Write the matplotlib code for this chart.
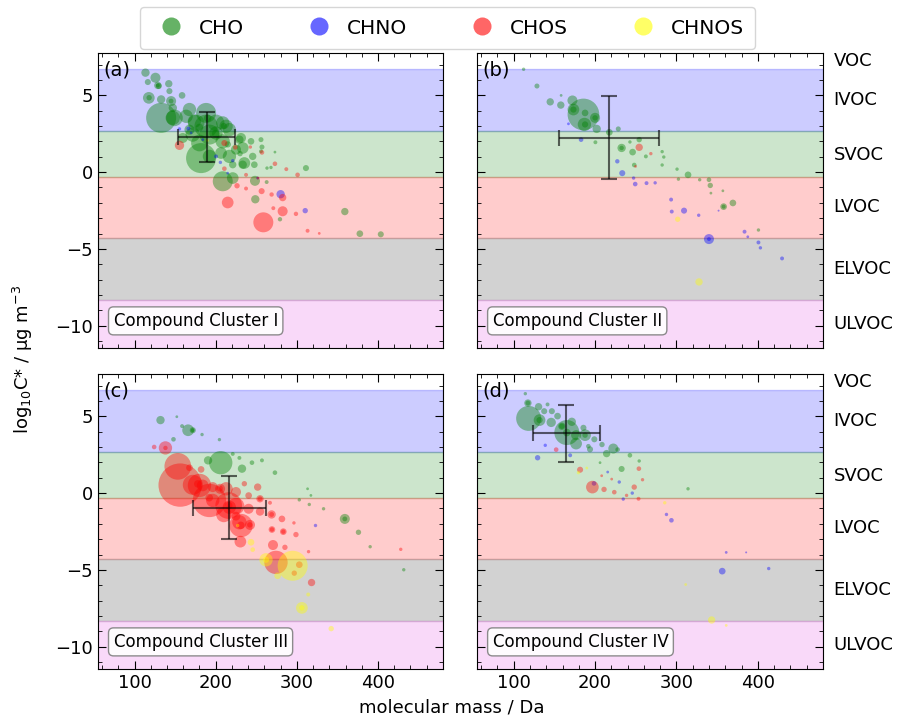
import numpy as np
import matplotlib
matplotlib.use('Agg')
import matplotlib.pyplot as plt
from matplotlib.lines import Line2D
import matplotlib.transforms as mtransforms

# ---- data: molecular mass (Da), log10 C*, marker area ----
# panel (a) Compound Cluster I
a_cho_mass = [113.5, 125.8, 116.4, 128.7, 142.2, 143.0, 117.6, 132.8, 145.1, 158.6, 132.8, 149.2, 167.7, 188.2,
              173.8, 208.7, 188.2, 159.5, 180.0, 216.8, 231.2, 233.3, 182.0, 208.7, 221.0, 233.3, 247.6, 243.5,
              255.8, 257.0, 248.4, 248.8, 262.8, 273.0, 263.2, 268.1, 311.2, 279.2, 359.1, 377.6, 403.4,
              200.4, 167.7, 147.2, 206.6, 225.0, 245.6, 221.0,
              129.9, 147.1, 163.6, 175.9, 200.5, 212.8, 171.7, 192.3, 208.6, 229.2, 192.3, 216.9, 235.3, 255.8,
              128.7, 118.0, 145.0, 190.0, 200.0, 180.0, 215.0, 230.0, 210.0]
a_cho_logc = [6.47, 6.14, 5.86, 5.64, 5.75, 5.27, 4.83, 4.73, 4.62, 4.99, 3.53, 3.53, 4.07, 3.85,
              3.31, 3.20, 2.98, 2.22, 1.89, 2.76, 2.22, 1.57, 0.91, -0.60, -0.39, 0.48, 0.48, 2.00,
              2.11, 1.63, -0.57, -1.77, -0.65, 1.30, 0.26, 0.30, 0.26, -3.07, -2.57, -4.01, -4.05,
              2.54, 2.76, 4.18, 1.24, 1.46, 1.02, 0.48,
              5.60, 3.53, 3.63, 3.20, 3.20, 2.98, 2.44, 2.44, 2.00, 2.11, 1.02, 1.02, 0.59, 1.35,
              5.64, 4.84, 4.62, 3.50, 2.50, 2.90, 1.80, 1.20, 3.00]
a_cho_size = [36, 52, 19, 28, 28, 19, 71, 36, 52, 23, 467, 144, 92, 207,
              92, 92, 282, 52, 144, 92, 52, 71, 467, 207, 71, 36, 23, 23,
              13, 13, 52, 36, 8, 4, 6, 6, 19, 10, 28, 23, 19,
              92, 52, 36, 71, 52, 28, 28,
              19, 106, 92, 144, 144, 92, 106, 207, 106, 36, 92, 92, 71, 8,
              8, 15, 12, 30, 30, 30, 20, 15, 20]
a_chno_mass = [155.4, 166.4, 169.7, 184.1, 200.4, 205.8, 221.0, 214.8, 251.7, 280.0, 310.3]
a_chno_logc = [2.81, 2.83, 2.55, 2.11, 1.02, 0.63, 0.74, -0.07, -0.39, -1.44, -2.51]
a_chno_size = [6, 8, 4, 4, 8, 6, 6, 4, 4, 36, 15]
a_chos_mass = [155.4, 210.7, 224.2, 242.7, 257.0, 273.0, 210.7, 237.4, 226.3, 237.4, 256.6, 268.9, 282.5,
               214.8, 271.0, 282.5, 298.9, 287.0, 300.9, 258.7, 313.2, 327.6, 252.1]
a_chos_logc = [1.74, 1.89, 1.61, 1.63, 1.28, 0.54, 0.22, -0.18, -0.89, -1.07, -1.24, -1.46, -1.66,
               -1.98, -2.35, -2.55, -2.72, 0.19, -0.18, -3.27, -3.82, -3.99, -0.39]
a_chos_size = [45, 19, 11, 6, 11, 11, 11, 8, 15, 8, 19, 10, 28,
               71, 8, 52, 10, 8, 11, 207, 8, 4, 4]
a_chnos_mass = [189.0]
a_chnos_logc = [2.07]
a_chnos_size = [4]

# panel (b) Compound Cluster II
b_cho_mass = [112.2, 128.6, 144.9, 157.9, 158.3, 172.2, 173.4, 187.7, 185.7, 186.9, 200.0, 202.0, 217.5,
              228.5, 200.4, 232.6, 246.1, 242.8, 254.2, 262.4, 282.4, 284.4, 282.4, 248.1, 300.7, 314.2,
              302.4, 328.5, 339.9, 341.5, 342.3, 357.0, 357.9, 369.3, 400.7,
              173.4, 187.7, 200.0, 232.6, 357.9]
b_cho_logc = [6.69, 5.60, 4.57, 4.36, 4.99, 4.66, 4.07, 3.85, 3.75, 3.10, 3.53, 2.81, 2.59,
              2.81, 1.94, 1.57, 1.30, 1.96, 2.11, 1.02, 1.33, 0.98, 0.46, 0.46, 0.19, -0.18,
              -0.46, -0.50, -0.50, -0.87, -1.37, -1.22, -2.25, -2.01, -3.77,
              4.07, 3.10, 3.53, 1.57, -2.25]
b_cho_size = [6, 13, 28, 28, 4, 52, 71, 23, 520, 92, 52, 36, 23,
              13, 8, 36, 23, 6, 15, 8, 6, 6, 6, 11, 6, 23,
              6, 6, 11, 15, 4, 4, 23, 23, 6,
              20, 20, 15, 10, 8]
b_chno_mass = [167.3, 182.8, 227.3, 233.4, 247.3, 249.3, 263.2, 273.8, 293.4, 294.2, 309.3, 327.3, 351.7,
               339.9, 339.9, 383.6, 387.6, 400.7, 403.1, 429.7]
b_chno_logc = [3.14, 2.11, 0.70, -0.07, -0.39, -0.78, -0.72, -0.70, -1.79, -2.57, -2.51, -2.81, -2.51,
               -4.36, -4.36, -3.88, -4.21, -4.58, -4.93, -5.62]
b_chno_size = [4, 11, 10, 19, 6, 11, 8, 6, 8, 8, 19, 6, 2,
               52, 8, 8, 4, 8, 6, 8]
b_chos_mass = [254.2, 268.5, 249.7]
b_chos_logc = [1.61, 1.20, 0.37]
b_chos_size = [28, 6, 4]
b_chnos_mass = [301.5, 327.7]
b_chnos_logc = [-3.07, -7.15]
b_chnos_size = [15, 28]

# panel (c) Compound Cluster III
c_cho_mass = [132.0, 152.1, 158.6, 166.0, 171.8, 148.0, 183.2, 204.6, 206.2, 190.6, 221.0, 229.2, 232.4,
              244.7, 257.0, 273.0, 313.2, 317.3, 303.0, 315.3, 332.9, 359.1, 375.9, 390.3, 431.7, 171.8, 359.1]
c_cho_logc = [4.75, 4.97, 4.36, 4.09, 4.09, 3.50, 3.81, 3.48, 1.98, 2.13, 2.55, 2.29, 1.59,
              1.98, 2.13, 1.33, 0.28, -0.15, -0.44, -0.74, -1.02, -1.68, -2.55, -3.49, -4.99, 4.09, -1.68]
c_cho_size = [36, 4, 8, 71, 19, 11, 6, 6, 282, 36, 8, 8, 36,
              11, 8, 11, 4, 4, 6, 6, 6, 52, 15, 6, 6, 8, 12]
c_chno_mass = [322.2]
c_chno_logc = [-2.09]
c_chno_size = [6]
c_chos_mass = [124.2, 138.1, 153.3, 156.2, 167.7, 182.0, 171.8, 180.0, 196.4, 205.4, 192.3, 216.0, 231.2,
               225.1, 240.6, 242.3, 251.7, 254.6, 254.6, 268.9, 281.6, 269.3, 283.3, 296.4, 298.9, 230.4,
               270.6, 285.3, 314.4, 274.3, 303.0, 296.8, 318.1, 428.0, 216.8, 184.0, 196.4, 210.0,
               212.8, 225.0, 235.3, 240.6, 266.9, 229.2, 216.0, 205.0, 231.0, 225.0, 192.0, 178.0, 242.0,
               138.1, 254.6, 268.9, 283.3, 269.3]
c_chos_logc = [3.00, 2.94, 1.74, 0.52, 1.65, 1.54, 0.54, 0.50, 0.39, 0.28, -0.48, -0.81, -2.11,
               -0.85, -1.02, -2.07, 0.39, -0.37, -1.20, -1.39, -1.68, -2.37, -2.51, -1.94, -2.70, -3.16,
               -3.38, -3.53, -3.81, -4.51, -4.66, -5.21, -5.82, -3.66, -0.92, 0.50, -0.48, -1.40,
               0.28, 0.07, 0.61, -0.16, -0.63, -1.90, -0.81, 0.30, -2.10, -1.50, -0.30, 0.60, -2.07,
               2.94, -0.37, -1.39, -2.51, -2.37]
c_chos_size = [11, 92, 369, 973, 23, 23, 207, 282, 52, 52, 576, 369, 282,
               144, 52, 52, 28, 28, 36, 36, 23, 23, 23, 6, 15, 71,
               52, 15, 6, 282, 23, 15, 28, 6, 92, 71, 92, 120,
               92, 52, 15, 23, 8, 106, 30, 20, 30, 40, 30, 30, 15,
               10, 12, 12, 10, 10]
c_chnos_mass = [243.5, 245.6, 262.0, 294.8, 276.3, 314.0, 306.2, 342.3, 227.1, 306.2, 262.0]
c_chnos_logc = [-3.20, -3.68, -4.34, -4.73, -5.38, -6.60, -7.47, -8.82, -2.11, -7.47, -4.34]
c_chnos_size = [23, 11, 92, 467, 23, 8, 71, 15, 6, 15, 20]

# panel (d) Compound Cluster IV
d_cho_mass = [114.3, 117.5, 130.6, 141.6, 137.5, 146.9, 118.4, 131.8, 146.1, 153.9, 159.2, 171.4, 165.3,
              176.7, 185.7, 187.7, 176.7, 199.1, 208.5, 191.8, 193.8, 222.4, 214.2, 227.7, 242.8, 254.2,
              232.6, 314.2, 206.1, 117.5, 131.8, 159.2, 165.3, 187.7]
d_cho_logc = [6.47, 5.86, 5.62, 5.77, 5.33, 5.33, 4.86, 4.75, 4.60, 5.01, 4.35, 4.64, 3.94,
              3.77, 4.25, 3.77, 3.22, 3.50, 3.16, 3.05, 2.85, 2.90, 2.57, 2.83, 2.46, 2.09,
              1.57, 0.28, 1.98, 5.86, 4.75, 4.35, 3.94, 3.77]
d_cho_size = [6, 28, 28, 8, 19, 19, 324, 71, 45, 23, 28, 36, 324,
              52, 19, 71, 71, 19, 15, 11, 19, 52, 28, 11, 11, 6,
              19, 6, 4, 12, 20, 15, 30, 15]
d_chno_mass = [138.8, 129.4, 169.4, 198.7, 215.5, 229.7, 245.7, 234.6, 287.7, 293.8, 361.1, 385.6, 356.2, 413.3]
d_chno_logc = [3.11, 2.30, 2.46, 0.63, 1.37, 0.72, 0.00, -0.39, -1.39, -1.77, -3.86, -3.86, -5.08, -4.91]
d_chno_size = [6, 15, 8, 11, 4, 6, 6, 6, 6, 11, 4, 2, 23, 6]
d_chos_mass = [152.2, 181.6, 196.7, 211.0, 223.6, 248.1, 253.8, 258.3, 253.4, 208.1, 220.4, 238.7]
d_chos_logc = [2.83, 1.52, 0.39, 0.24, 0.06, 0.39, 1.59, 0.87, -0.37, 1.13, 0.91, -0.15]
d_chos_size = [11, 19, 83, 15, 11, 15, 11, 6, 8, 4, 4, 6]
d_chnos_mass = [179.6, 189.8, 285.6, 311.3, 343.2, 361.1]
d_chnos_logc = [1.33, 1.63, -0.63, -5.95, -8.26, -8.61]
d_chnos_size = [6, 4, 6, 4, 28, 4]

# cluster mean +- std (mass, logC*)
centre_mass = [189, 217, 217, 164.5]
centre_logc = [2.3, 2.25, -0.95, 3.9]
err_mass = [35, 61, 45, 41]
err_logc = [1.62, 2.7, 2.03, 1.85]

panel_tags = ['(a)', '(b)', '(c)', '(d)']
cluster_names = ['Compound Cluster I', 'Compound Cluster II', 'Compound Cluster III', 'Compound Cluster IV']
groups = ['CHO', 'CHNO', 'CHOS', 'CHNOS']
group_colors = ['green', 'blue', 'red', 'yellow']

# volatility classes
band_edges = [6.7, 2.7, -0.3, -4.3, -8.3]
band_names = ['VOC', 'IVOC', 'SVOC', 'LVOC', 'ELVOC', 'ULVOC']
band_label_y = [7.2, 4.7, 1.1, -2.3, -6.3, -9.9]
band_colors = [('blue', 0.2), ('green', 0.2), ('red', 0.2), ('gray', 0.35), ('violet', 0.3)]

panels = [
    [(a_cho_mass, a_cho_logc, a_cho_size), (a_chno_mass, a_chno_logc, a_chno_size),
     (a_chos_mass, a_chos_logc, a_chos_size), (a_chnos_mass, a_chnos_logc, a_chnos_size)],
    [(b_cho_mass, b_cho_logc, b_cho_size), (b_chno_mass, b_chno_logc, b_chno_size),
     (b_chos_mass, b_chos_logc, b_chos_size), (b_chnos_mass, b_chnos_logc, b_chnos_size)],
    [(c_cho_mass, c_cho_logc, c_cho_size), (c_chno_mass, c_chno_logc, c_chno_size),
     (c_chos_mass, c_chos_logc, c_chos_size), (c_chnos_mass, c_chnos_logc, c_chnos_size)],
    [(d_cho_mass, d_cho_logc, d_cho_size), (d_chno_mass, d_chno_logc, d_chno_size),
     (d_chos_mass, d_chos_logc, d_chos_size), (d_chnos_mass, d_chnos_logc, d_chnos_size)],
]

ymin, ymax = -11.45, 7.75
fig = plt.figure(figsize=(9.04, 7.18), dpi=100)
boxes = [[0.1084, 0.5153, 0.3816, 0.4109], [0.5277, 0.5153, 0.3827, 0.4109],
         [0.1084, 0.0682, 0.3816, 0.4109], [0.5277, 0.0682, 0.3827, 0.4109]]

for i in range(4):
    ax = fig.add_axes(boxes[i])
    tops = [ymax + 1] + band_edges
    bots = band_edges + [ymin - 1]
    for j in range(5):
        ax.axhspan(bots[j + 1], tops[j + 1], color=band_colors[j][0], alpha=band_colors[j][1], zorder=0)
    for (m, c, s), col in zip(panels[i], group_colors):
        ax.scatter(m, c, s=s, color=col, alpha=0.4, linewidths=0, zorder=2)
    ax.errorbar(centre_mass[i], centre_logc[i], xerr=err_mass[i], yerr=err_logc[i],
                color='black', alpha=0.6, capsize=6, lw=1.5, capthick=1.5, zorder=3)
    ax.set_xlim(55, 480)
    ax.set_ylim(ymin, ymax)
    ax.set_xticks([100, 200, 300, 400])
    ax.set_yticks([5, 0, -5, -10])
    ax.xaxis.set_minor_locator(matplotlib.ticker.MultipleLocator(20))
    ax.yaxis.set_minor_locator(matplotlib.ticker.MultipleLocator(1))
    ax.tick_params(which='both', direction='in', top=True, right=True, labelsize=13)
    ax.tick_params(which='major', length=6)
    ax.tick_params(which='minor', length=3)
    if i < 2:
        ax.tick_params(labelbottom=False)
    if i % 2 == 1:
        ax.tick_params(labelleft=False)
        trans = mtransforms.blended_transform_factory(ax.transAxes, ax.transData)
        for name, yv in zip(band_names, band_label_y):
            ax.text(1.03, yv, name, transform=trans, ha='left', va='center', fontsize=13)
    ax.text(0.016, 0.975, panel_tags[i], transform=ax.transAxes, ha='left', va='top', fontsize=14)
    ax.text(0.045, 0.092, cluster_names[i], transform=ax.transAxes, ha='left', va='center', fontsize=12,
            bbox=dict(boxstyle='round,pad=0.3', fc='white', ec='gray', alpha=0.9))

fig.text(0.5, 0.015, 'molecular mass / Da', ha='center', va='center', fontsize=13)
fig.text(0.025, 0.5, r'log$_{10}$C* / µg m$^{-3}$', ha='center', va='center', rotation=90, fontsize=13)

handles = [Line2D([], [], marker='o', ls='none', color=c, alpha=0.6, markeredgewidth=0, markersize=13)
           for c in group_colors]
fig.legend(handles, groups, loc='center', bbox_to_anchor=(0.495, 0.961), ncol=4, fontsize=14.5,
           handletextpad=0.4, columnspacing=2.7, borderpad=0.55, fancybox=True)

fig.savefig('out.png', dpi=100)
